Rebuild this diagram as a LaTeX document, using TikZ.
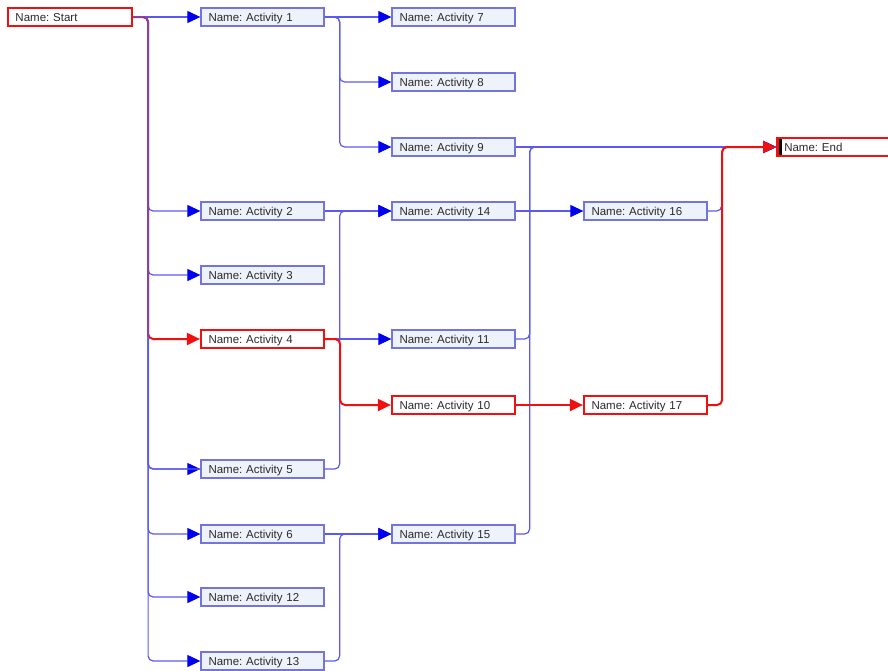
\documentclass[tikz,border=0pt]{standalone}
\usepackage{fontspec}
\setmainfont{Liberation Sans}
\usetikzlibrary{arrows.meta}
\definecolor{bline}{HTML}{5A5AF0}
\definecolor{bnode}{HTML}{7474E0}
\definecolor{bfill}{HTML}{EEF2FB}
\definecolor{btip}{HTML}{0000F0}
\definecolor{rline}{HTML}{F01010}
\definecolor{ntext}{HTML}{2A2A2A}
\frenchspacing
\begin{document}
\begin{tikzpicture}[x=1pt,y=-1pt,
  act/.style={draw=bnode, line width=1.3pt, fill=bfill, minimum width=123pt,
    minimum height=18pt, inner xsep=7.5pt, inner ysep=0pt, text width=108pt,
    text height=9pt, text depth=0pt,
    align=left, font=\fontsize{11.5}{12}\selectfont, text=ntext},
  crit/.style={act, draw=rline, fill=white, line width=2.2pt},
  bl/.style={draw=bline, line width=1.2pt, rounded corners=5pt,
    -{Triangle[length=13pt,width=12pt,color=btip]}},
  rl/.style={draw=rline, line width=2pt, rounded corners=5pt,
    -{Triangle[length=13pt,width=12pt,color=rline]}},
  ov/.style={draw=bline, line width=1.8pt, rounded corners=5pt, opacity=0.65}]
\useasboundingbox (0,0) rectangle (888,670);
% nodes
\node[crit, minimum width=124pt, text width=109pt] (start) at (70,17) {Name: Start};
\node[act] (a1) at (262.5,17) {Name: Activity 1};
\node[act] (a2) at (262.5,211) {Name: Activity 2};
\node[act] (a3) at (262.5,275) {Name: Activity 3};
\node[crit] (a4) at (262.5,339) {Name: Activity 4};
\node[act] (a5) at (262.5,469) {Name: Activity 5};
\node[act] (a6) at (262.5,534) {Name: Activity 6};
\node[act] (a12) at (262.5,597) {Name: Activity 12};
\node[act] (a13) at (262.5,661) {Name: Activity 13};
\node[act] (a7) at (453.5,17) {Name: Activity 7};
\node[act] (a8) at (453.5,82) {Name: Activity 8};
\node[act] (a9) at (453.5,147) {Name: Activity 9};
\node[act] (a14) at (453.5,211) {Name: Activity 14};
\node[act] (a11) at (453.5,339) {Name: Activity 11};
\node[crit] (a10) at (453.5,405) {Name: Activity 10};
\node[act] (a15) at (453.5,534) {Name: Activity 15};
\node[act] (a16) at (645.5,211) {Name: Activity 16};
\node[crit] (a17) at (645.5,405) {Name: Activity 17};
\node[crit, anchor=west, minimum width=130pt, text width=116pt, line width=2.5pt,
  inner xsep=7pt,
  path picture={\fill[black] (path picture bounding box.north west) rectangle
    ([xshift=5pt]path picture bounding box.south west);}] (end) at (776,147) {Name: End};
% blue connectors
\draw[bl] (start.east) -- (a1.west);
\foreach \t in {a2,a3,a5,a6,a12,a13}
  \draw[bl] (start.east) -- ++(15,0) |- (\t.west);
\draw[bl] (a1.east) -- (a7.west);
\draw[bl] (a1.east) -- ++(15,0) |- (a8.west);
\draw[bl] (a1.east) -- ++(15,0) |- (a9.west);
\draw[bl] (a9.east) -- (end.west);
\draw[bl] (a11.east) -- ++(14,0) |- (end.west);
\draw[bl] (a15.east) -- ++(14,0) |- (end.west);
\draw[bl] (a2.east) -- (a14.west);
\draw[bl] (a5.east) -- ++(15,0) |- (a14.west);
\draw[bl] (a4.east) -- (a11.west);
\draw[bl] (a6.east) -- (a15.west);
\draw[bl] (a13.east) -- ++(15,0) |- (a15.west);
\draw[bl] (a14.east) -- (a16.west);
\draw[bl] (a16.east) -- ++(14,0) |- (end.west);
% red (critical) connectors
\draw[rl] (start.east) -- ++(15,0) |- (a4.west);
\draw[rl] (a4.east) -- ++(15,0) |- (a10.west);
\draw[rl] (a10.east) -- (a17.west);
\draw[rl] (a17.east) -- ++(14,0) |- (end.west);
% shared bus seen through the red line
\draw[ov] (start.east) -- ++(15,0) |- (a5.west);
\end{tikzpicture}
\end{document}
